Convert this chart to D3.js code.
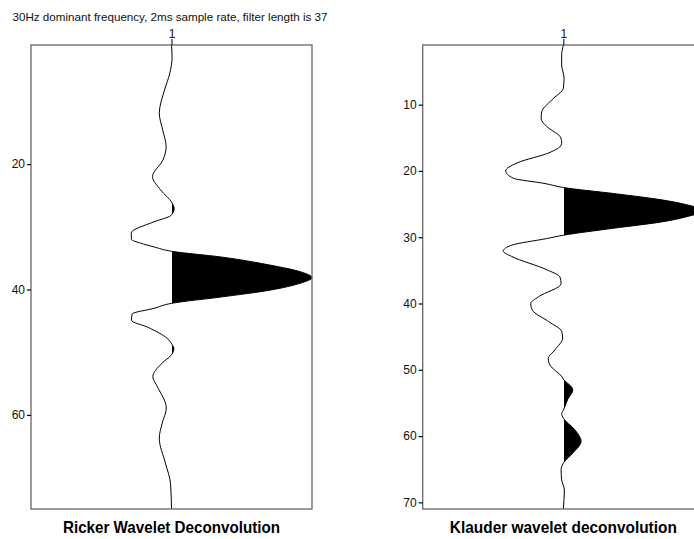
<!DOCTYPE html>
<html>
<head>
<meta charset="utf-8">
<script src="https://cdn.jsdelivr.net/npm/d3@7"></script>
<style>
  html, body { margin: 0; padding: 0; background: #fff; }
  svg { display: block; font-family: "Liberation Sans", Arial, sans-serif; }
</style>
</head>
<body>
<svg id="chart" width="694" height="539"></svg>
<script>
// ---- data ----
const chartTitle = "30Hz dominant frequency, 2ms sample rate, filter length is 37";
const panelTitles = ["Ricker Wavelet Deconvolution", "Klauder wavelet deconvolution"];
const traceLabels = ["1"];

// Ricker deconvolution trace: sample position (depth) and normalised amplitude
const leftDepth = [1.0, 3.0, 5.5, 8.2, 11.9, 14.6, 17.2, 19.3, 22.0, 24.1, 26.2, 27.1, 28.2, 29.2, 31.0, 32.0, 32.6, 33.2, 33.9,
  34.8, 36.1, 37.15, 38.1, 39.0, 40.1, 41.2, 42.2, 43.0, 43.9, 44.9, 46.0, 47.8, 48.8, 49.4, 50.4, 51.8, 53.9, 55.5, 58.9,
  61.3, 63.7, 67.7, 70.9, 75.0];
const leftAmp = [0.0, 0.004, -0.012, -0.05, -0.087, -0.062, -0.038, -0.06, -0.135, -0.078, 0.005, 0.019, -0.005, -0.125, -0.287,
  -0.285, -0.22, -0.125, 0.0, 0.35, 0.70, 0.915, 1.0, 0.915, 0.70, 0.35, 0.0, -0.125, -0.28, -0.285, -0.17, -0.03, 0.005,
  0.017, 0.0, -0.07, -0.133, -0.10, -0.037, -0.066, -0.087, -0.043, -0.007, 0.0];

// Klauder deconvolution trace
const rightDepth = [1.0, 2.5, 4.0, 6.0, 7.5, 9.3, 11.1, 12.1, 13.3, 14.8, 15.6, 16.1, 17.2, 18.8, 20.0, 21.1, 21.9, 22.5,
  23.4, 24.4, 25.1, 26.0, 26.9, 27.65, 28.65, 29.7, 30.2, 31.2, 32.1, 32.9, 34.9, 36.0, 37.0, 39.0, 40.0, 41.0, 42.7,
  44.2, 45.2, 47.0, 48.3, 49.3, 51.0, 51.4, 53.0, 54.5, 56.1, 56.6, 57.3, 59.0, 60.8, 62.5, 64.1, 65.1, 66.6, 68.1, 71.0];
const rightAmp = [0.0, -0.012, -0.012, 0.005, 0.0, -0.083, -0.154, -0.158, -0.118, -0.024, -0.012, -0.016, -0.095, -0.33,
  -0.41, -0.355, -0.13, 0.0, 0.355, 0.71, 0.877, 1.0, 0.877, 0.71, 0.355, 0.0, -0.118, -0.367, -0.427, -0.367, -0.118,
  -0.024, -0.016, -0.178, -0.232, -0.22, -0.107, -0.012, -0.005, -0.06, -0.107, -0.095, -0.012, 0.0, 0.067, 0.03, 0.0,
  -0.012, 0.0, 0.08, 0.126, 0.07, 0.0, -0.016, -0.012, 0.007, 0.0];

const leftDomain = [1, 75];
const rightDomain = [1, 71];
const leftTicks = [20, 40, 60];
const rightTicks = [10, 20, 30, 40, 50, 60, 70];

// ---- drawing ----
const svg = d3.select("#chart");

function fitText(sel, width) {
  const w = sel.node().getComputedTextLength();
  if (w > 0) sel.attr("textLength", width).attr("lengthAdjust", "spacingAndGlyphs");
}

const t = svg.append("text")
  .attr("x", 12.5).attr("y", 20.5)
  .attr("font-size", 11).attr("fill", "#111")
  .text(chartTitle);
fitText(t, 315);

function panel(id, depth, amp, domain, ticks, x0, x1, title, titleW) {
  const top = 45, bottom = 509;
  const y = d3.scaleLinear().domain(domain).range([top, bottom]);
  const x = d3.scaleLinear().domain([-1, 1]).range([x0, x1]);
  const g = svg.append("g");
  const pts = depth.map((d, i) => ({ s: d, v: amp[i] }));
  const cx = x(0);

  // clip for positive fill (aligned to the pixel grid to avoid a hairline)
  const clipX = Math.ceil(cx);
  svg.append("defs").append("clipPath").attr("id", "pos" + id)
    .append("rect").attr("x", clipX).attr("y", top).attr("width", x1 - clipX + 20).attr("height", bottom - top);

  const curve = d3.curveMonotoneY;
  const area = d3.area().curve(curve)
    .y(d => y(d.s)).x0(cx - 5).x1(d => x(d.v));
  g.append("path").datum(pts)
    .attr("clip-path", `url(#pos${id})`)
    .attr("d", area).attr("fill", "#000");

  const line = d3.line().curve(curve).x(d => x(d.v)).y(d => y(d.s));
  g.append("path").datum(pts).attr("d", line)
    .attr("fill", "none").attr("stroke", "#000").attr("stroke-width", 1);

  // frame
  g.append("rect").attr("x", x0).attr("y", top).attr("width", x1 - x0).attr("height", bottom - top)
    .attr("fill", "none").attr("stroke", "#666").attr("stroke-width", 1.3);

  // left axis
  const ya = g.append("g").attr("transform", `translate(${x0},0)`)
    .call(d3.axisLeft(y).tickValues(ticks).tickSize(4).tickPadding(2).tickFormat(d3.format("d")));
  ya.select(".domain").remove();
  ya.selectAll("line").attr("stroke", "#000").attr("stroke-width", 1.2);
  ya.selectAll("text").attr("font-size", 12).attr("fill", "#111")
    .attr("font-family", "Liberation Sans, Arial, sans-serif");

  // top axis (trace number)
  const xa = g.append("g").attr("transform", `translate(0,${top})`)
    .call(d3.axisTop(x).tickValues([0]).tickSize(6).tickPadding(1).tickFormat(() => traceLabels[0]));
  xa.select(".domain").remove();
  xa.selectAll("line").attr("stroke", "#000");
  xa.selectAll("text").attr("font-size", 12).attr("fill", "#111")
    .attr("font-family", "Liberation Sans, Arial, sans-serif");

  // panel title
  const tt = svg.append("text")
    .attr("x", cx).attr("y", 533)
    .attr("text-anchor", "middle")
    .attr("font-size", 16.5).attr("font-weight", "bold").attr("fill", "#000")
    .text(title);
  fitText(tt, titleW);
}

panel("L", leftDepth, leftAmp, leftDomain, leftTicks, 31, 312, panelTitles[0], 217);
panel("R", rightDepth, rightAmp, rightDomain, rightTicks, 422.7, 704, panelTitles[1], 227);
</script>
</body>
</html>
